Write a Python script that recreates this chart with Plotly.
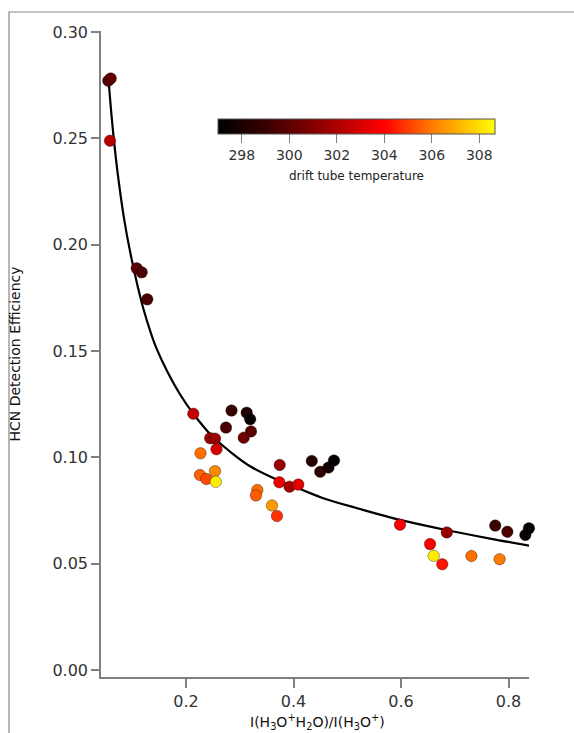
import plotly.graph_objects as go

# ---- data ----
ratio = [0.0554, 0.0599, 0.0586, 0.1083, 0.1176, 0.1280, 0.2136, 0.2847, 0.3129, 0.3194,
         0.2744, 0.3209, 0.3074, 0.2450, 0.2540, 0.2567, 0.2270, 0.2260, 0.2378, 0.2540,
         0.2554, 0.3743, 0.3736, 0.3927, 0.4089, 0.4340, 0.4497, 0.4651, 0.4753, 0.3327,
         0.3302, 0.3600, 0.3693, 0.5981, 0.6540, 0.6608, 0.6767, 0.6852, 0.7310, 0.7753,
         0.7978, 0.7834, 0.8313, 0.8380]
efficiency = [0.2771, 0.2782, 0.2489, 0.1889, 0.1870, 0.1743, 0.1205, 0.1220, 0.1210, 0.1179,
              0.1140, 0.1122, 0.1092, 0.1090, 0.1088, 0.1038, 0.1019, 0.0917, 0.0898, 0.0935,
              0.0885, 0.0964, 0.0883, 0.0862, 0.0872, 0.0983, 0.0932, 0.0952, 0.0985, 0.0846,
              0.0821, 0.0774, 0.0724, 0.0683, 0.0592, 0.0537, 0.0497, 0.0647, 0.0536, 0.0679,
              0.0650, 0.0521, 0.0635, 0.0666]
temperature = [299.8, 300.0, 302.2, 300.0, 299.5, 299.5, 302.5, 299.0, 298.2, 297.3,
               299.5, 299.8, 300.5, 301.5, 301.5, 303.0, 305.8, 305.6, 305.2, 306.3,
               308.3, 301.5, 303.5, 301.8, 303.3, 298.5, 298.8, 297.6, 297.2, 305.8,
               305.5, 306.6, 304.8, 303.8, 303.8, 308.3, 304.3, 301.5, 305.8, 299.0,
               299.5, 306.0, 297.4, 297.2]

# fitted curve
fit_x = [0.0558, 0.060, 0.066, 0.075, 0.085, 0.0958, 0.11, 0.1206, 0.135, 0.1455, 0.165,
         0.19, 0.2136, 0.2484, 0.28, 0.32, 0.3754, 0.42, 0.4554, 0.5237, 0.5795, 0.6415,
         0.6861, 0.7656, 0.84]
fit_y = [0.2778, 0.265, 0.2490, 0.2295, 0.2119, 0.1970, 0.1806, 0.1700, 0.1582, 0.1510, 0.1405,
         0.1292, 0.1205, 0.1100, 0.1031, 0.0957, 0.0888, 0.0843, 0.0808, 0.0757, 0.0718, 0.0681,
         0.0657, 0.0618, 0.0584]

cbar_ticks = [298, 300, 302, 304, 306, 308]
y_ticks = [0.00, 0.05, 0.10, 0.15, 0.20, 0.25, 0.30]
x_ticks = [0.2, 0.4, 0.6, 0.8]

hot = [[0.0, "#000000"], [0.15, "#300000"], [0.30, "#700000"], [0.45, "#b80000"],
       [0.60, "#ff0000"], [0.78, "#ff8000"], [1.0, "#ffff00"]]

FONT = "DejaVu Sans"
GRAY = "#808080"
L, R, T, B = 101, 45, 31, 56
PW, PH = 574 - L - R, 733 - T - B


def px(xp):
    return (xp - L) / PW


def py(yp):
    return (733 - B - yp) / PH


fig = go.Figure()
fig.add_trace(go.Scatter(
    x=fit_x, y=fit_y, mode="lines",
    line=dict(color="black", width=2.2, shape="spline", smoothing=1.0),
    hoverinfo="skip", showlegend=False,
))
fig.add_trace(go.Scatter(
    x=ratio, y=efficiency, mode="markers", cliponaxis=False, showlegend=False,
    marker=dict(
        size=11.5, color=temperature, colorscale=hot, cmin=297.0, cmax=308.66,
        line=dict(width=1, color="rgba(0,0,0,0.35)"),
        colorbar=dict(
            orientation="h", lenmode="pixels", len=277, thickness=15,
            x=px(356.5), xanchor="center",
            y=py(119), yanchor="top", ypad=0, xpad=0,
            outlinewidth=1, outlinecolor="#555555",
            tickvals=cbar_ticks, ticks="outside", ticklen=9, tickcolor=GRAY,
            tickfont=dict(family=FONT, size=14, color="#333333"),
        ),
    ),
))

fig.update_layout(
    width=574, height=733,
    margin=dict(l=L, r=R, t=T, b=B, autoexpand=False),
    paper_bgcolor="white", plot_bgcolor="white",
    font=dict(family=FONT, color="#333333"),
    xaxis=dict(
        range=[0.0419, 0.8381], tickvals=x_ticks, ticktext=["0.2", "0.4", "0.6", "0.8"],
        automargin=False,
        showgrid=False, zeroline=False, showline=True, linecolor=GRAY, linewidth=1.5,
        ticks="outside", ticklen=9, tickcolor=GRAY, tickwidth=1.5,
        tickfont=dict(family=FONT, size=16, color="#333333"),
    ),
    yaxis=dict(
        range=[-0.0033, 0.3005], tickvals=y_ticks,
        ticktext=["0.00", "0.05", "0.10", "0.15", "0.20", "0.25", "0.30"],
        automargin=False,
        showgrid=False, zeroline=False, showline=True, linecolor=GRAY, linewidth=1.5,
        ticks="outside", ticklen=8, tickcolor=GRAY, tickwidth=1.5,
        tickfont=dict(family=FONT, size=16, color="#333333"),
        title=dict(text="HCN Detection Efficiency",
                   font=dict(family=FONT, size=14, color="#111111"), standoff=29),
    ),
    annotations=[
        dict(text="drift tube temperature", xref="paper", yref="paper",
             x=px(356.5), y=py(176), xanchor="center", yanchor="middle",
             showarrow=False, font=dict(family=FONT, size=12, color="#222222")),
        dict(text="I(H<sub>3</sub>O<sup>+</sup>H<sub>2</sub>O)/I(H<sub>3</sub>O<sup>+</sup>)",
             xref="paper", yref="paper", x=px(317), y=py(722),
             xanchor="center", yanchor="middle", showarrow=False,
             font=dict(family=FONT, size=14, color="#111111")),
    ],
    shapes=[dict(type="rect", xref="paper", yref="paper",
                 x0=px(9), x1=px(590), y0=py(760), y1=py(12),
                 line=dict(color="#888888", width=1.2), fillcolor="rgba(0,0,0,0)",
                 layer="below")],
)

fig.write_html("out.html")
